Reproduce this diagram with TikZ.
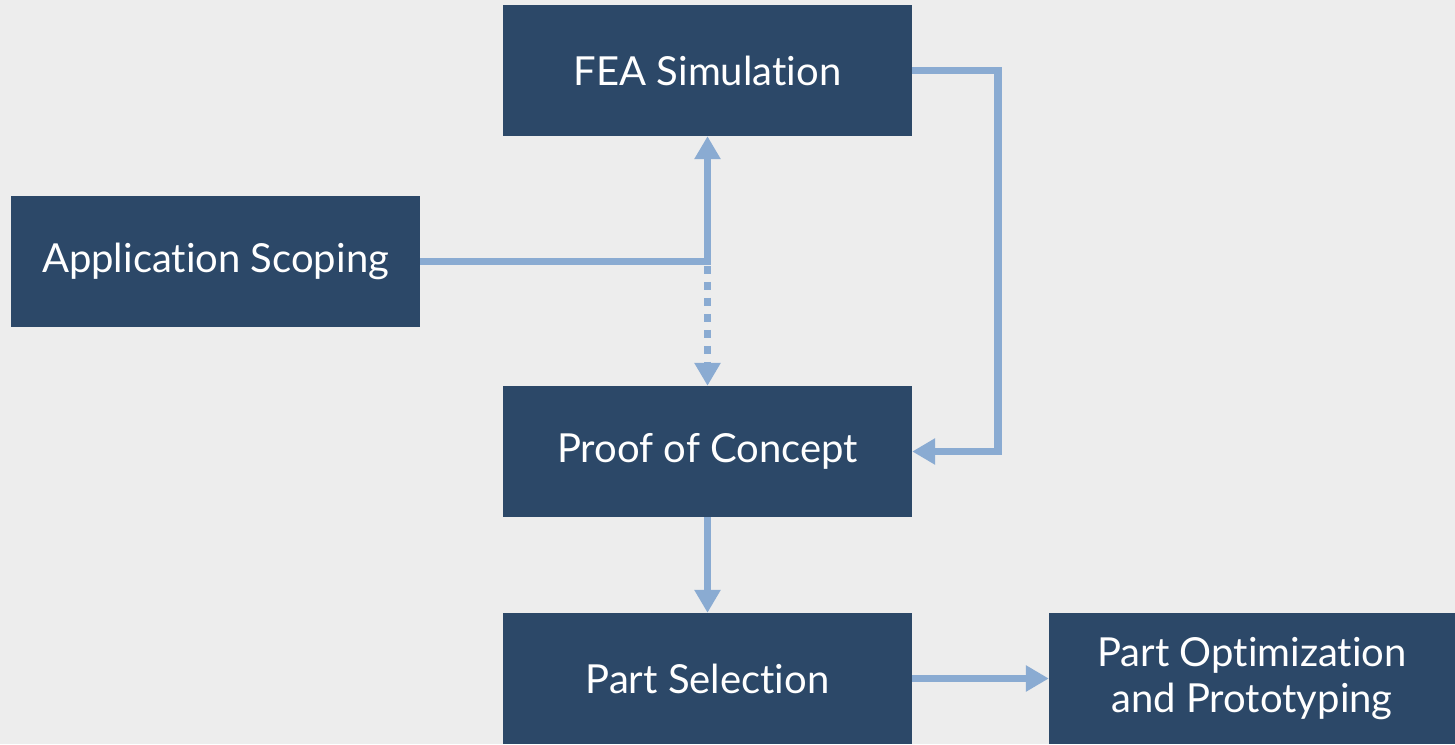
\documentclass[tikz,border=0pt]{standalone}
\usepackage{fontspec}
\setmainfont{Lato}[Ligatures={NoCommon,NoRare}]
\usetikzlibrary{arrows.meta}
\definecolor{boxblue}{HTML}{2C4868}
\definecolor{arrowblue}{HTML}{8AABD2}
\definecolor{bg}{HTML}{EDEDED}
\begin{document}
\begin{tikzpicture}[x=1pt,y=-1pt,
  box/.style={fill=boxblue,text=white,minimum width=409pt,minimum height=131pt,inner sep=0pt,align=center,font=\fontsize{40}{46}\selectfont},
  lbl/.style={text=white,align=center,font=\fontsize{40}{46}\selectfont,inner sep=0pt},
  conn/.style={draw=arrowblue,line width=7.5pt},
  tip/.style={-{Triangle[width=25pt,length=23pt]}}]
\fill[bg] (0,0) rectangle (1455,744);
\useasboundingbox (0,0) rectangle (1455,744);
\node[box] (fea) at (707.5,70.5) {FEA Simulation};
\node[box] (app) at (215.5,261.5) {Application Scoping};
\node[box] (poc) at (707.5,451.5) {Proof of Concept};
\node[box] (ps) at (707.5,678.5) {Part Selection};
\node[box,minimum width=406pt] (po) at (1252,678.5) {Part Optimization\\and Prototyping};
\coordinate (j) at (707.5,261.5);
\coordinate (fr) at (998,70.5);
\coordinate (pr) at (998,451.5);
\draw[conn] (app.east) -- ([xshift=3.75pt]j);
\draw[conn,tip] ([yshift=3.75pt]j) -- (fea.south);
\draw[conn,tip,dash pattern=on 8pt off 8pt,dash phase=-8pt] ([yshift=3.75pt]j) -- (poc.north);
\draw[conn,tip] (fea.east) -- (fr) -- (pr) -- (poc.east);
\draw[conn,tip] (poc.south) -- (ps.north);
\draw[conn,tip] (ps.east) -- (po.west);
\end{tikzpicture}
\end{document}
